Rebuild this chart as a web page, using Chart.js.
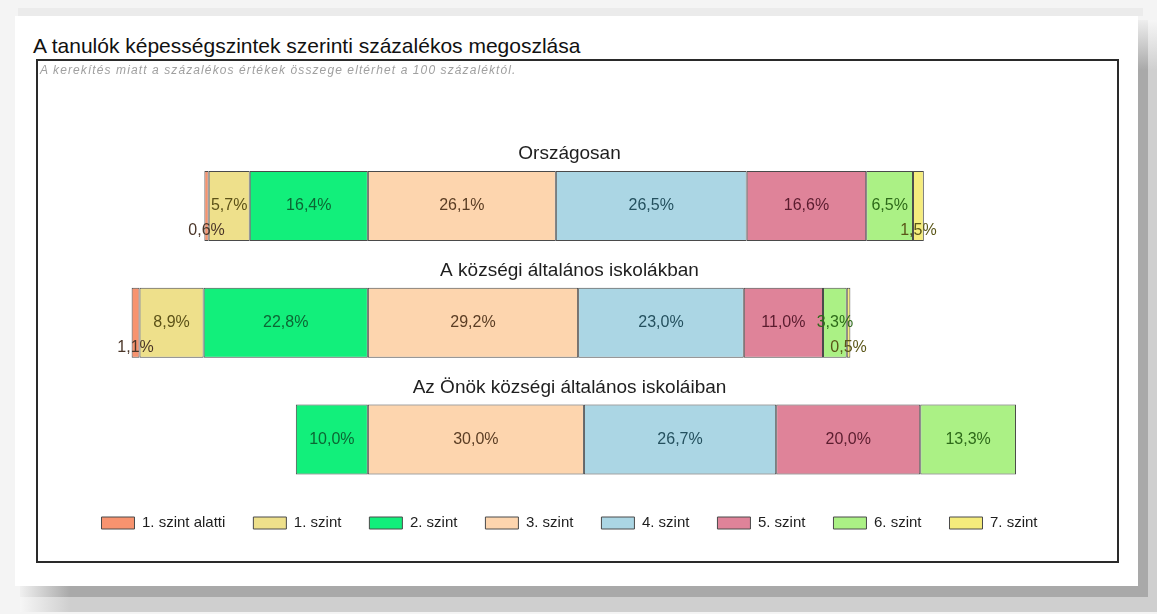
<!DOCTYPE html>
<html lang="hu">
<head>
<meta charset="utf-8">
<title>A tanulók képességszintek szerinti százalékos megoszlása</title>
<script src="https://cdn.jsdelivr.net/npm/chart.js@4.4.1/dist/chart.umd.min.js"></script>
<style>
  html, body { margin: 0; padding: 0; }
  body { width: 1157px; height: 614px; background: #f4f4f4; position: relative; overflow: hidden; font-family: "Liberation Sans", Arial, sans-serif; }
  .blk { position: absolute; }
  #paper { left: 15px; top: 16px; width: 1123px; height: 570px; background: #fff; }
  #heading { position: absolute; left: 33px; top: 35px; font-size: 21px; line-height: 21px; color: #111; white-space: nowrap; }
  #frame { position: absolute; left: 36px; top: 59px; width: 1083px; height: 504px; box-sizing: border-box; border: 2px solid #2a2a2a; background: #fff; }
  #frame canvas { display: block; }
  #note { position: absolute; left: 2px; top: 2px; font-size: 12px; line-height: 14px; font-style: italic; letter-spacing: 1.1px; color: #a0a0a0; white-space: nowrap; }
</style>
</head>
<body>
<!-- page background with the grey drop shadow -->
<div class="blk" style="left:18px;top:8px;width:1125px;height:8px;background:#ebebeb"></div>
<div class="blk" style="left:1138px;top:20px;width:10px;height:576px;background:linear-gradient(#eeeeee,#a9a9a9 50px)"></div>
<div class="blk" style="left:1148px;top:20px;width:9px;height:592px;background:linear-gradient(#f6f6f6,#cfcfcf 50px)"></div>
<div class="blk" style="left:20px;top:586px;width:1128px;height:11px;background:linear-gradient(90deg,#f0f0f0,#a9a9a9 50px)"></div>
<div class="blk" style="left:20px;top:597px;width:1137px;height:15px;background:linear-gradient(90deg,#f6f6f6,#cfcfcf 50px)"></div>
<div class="blk" id="paper"></div>
<div id="heading">A tanulók képességszintek szerinti százalékos megoszlása</div>
<div id="frame">
  <canvas id="chart" width="1079" height="500"></canvas>
  <div id="note">A kerekítés miatt a százalékos értékek összege eltérhet a 100 százaléktól.</div>
</div>

<script>
// ---------- data ----------
const categories = ["Országosan", "A községi általános iskolákban", "Az Önök községi általános iskoláiban"];
const levels = ["1. szint alatti", "1. szint", "2. szint", "3. szint", "4. szint", "5. szint", "6. szint", "7. szint"];

const belowLevel1 = [0.6, 1.1, 0];
const level1 = [5.7, 8.9, 0];
const level2 = [16.4, 22.8, 10.0];
const level3 = [26.1, 29.2, 30.0];
const level4 = [26.5, 23.0, 26.7];
const level5 = [16.6, 11.0, 20.0];
const level6 = [6.5, 3.3, 13.3];
const level7 = [1.5, 0.5, 0];

// ---------- styling ----------
const fills = ["#f7936f", "#eee08b", "#12ef7b", "#fdd5ae", "#abd6e4", "#df8399", "#abf185", "#f5ec7c"];
const labelColors = ["#4a3528", "#5c5218", "#0c6634", "#5a3d24", "#24505e", "#5a1c2e", "#2e6a1a", "#5a5618"];
const FONT = '"Liberation Sans", Arial, sans-serif';

const seriesValues = [belowLevel1, level1, level2, level3, level4, level5, level6, level7];
const LEFT_LEVELS = 3; // below-3 levels are drawn to the left of zero

const datasets = levels.map((name, i) => ({
  label: name,
  data: seriesValues[i].map(v => (v === 0 ? null : (i < LEFT_LEVELS ? -v : v))),
  backgroundColor: fills[i],
  borderColor: "#4a4a4a",
  borderWidth: 1,
  borderSkipped: false,
  // negative stack grows outward from zero: 2. szint first, then 1., then "alatti"
  order: i < LEFT_LEVELS ? LEFT_LEVELS - 1 - i : i,
  clip: false,
}));

// value labels inside the segments, tiny ones are pushed below the bar
const valueLabels = {
  id: "valueLabels",
  afterDatasetsDraw(chart) {
    const ctx = chart.ctx;
    ctx.save();
    ctx.font = "16px " + FONT;
    ctx.textAlign = "center";
    ctx.textBaseline = "middle";
    chart.data.datasets.forEach((ds, di) => {
      const meta = chart.getDatasetMeta(di);
      meta.data.forEach((el, idx) => {
        const raw = ds.data[idx];
        if (raw === null) return;
        const v = Math.abs(raw);
        const cx = (el.x + el.base) / 2;
        const cy = v < 2 ? el.y + 25 : el.y;
        ctx.fillStyle = labelColors[di];
        ctx.fillText(v.toFixed(1).replace(".", ",") + "%", cx, cy);
      });
    });
    ctx.restore();
  }
};

// group title above every bar
const barTitles = {
  id: "barTitles",
  afterDatasetsDraw(chart) {
    const ctx = chart.ctx;
    const area = chart.chartArea;
    const el = chart.getDatasetMeta(3).data[0];
    const half = el ? el.height / 2 : 35;
    ctx.save();
    ctx.font = "19px " + FONT;
    ctx.fillStyle = "#1e1e1e";
    ctx.textAlign = "center";
    ctx.textBaseline = "middle";
    categories.forEach((name, i) => {
      const y = chart.scales.y.getPixelForValue(i);
      ctx.fillText(name, (area.left + area.right) / 2, y - half - 17);
    });
    ctx.restore();
  }
};

new Chart(document.getElementById("chart"), {
  type: "bar",
  data: { labels: categories, datasets: datasets },
  options: {
    indexAxis: "y",
    responsive: false,
    animation: false,
    events: [],
    categoryPercentage: 0.6,
    barPercentage: 1,
    layout: { padding: { left: 0, right: 16, top: 145, bottom: 20.5 } },
    scales: {
      x: {
        stacked: true,
        min: -45.8,
        max: 101.8,
        ticks: { display: false },
        grid: { display: false },
        border: { display: false },
        afterFit: (scale) => { scale.height = 48; }
      },
      y: {
        stacked: true,
        display: false,
        offset: false
      }
    },
    plugins: {
      title: { display: false },
      legend: {
        position: "bottom",
        labels: {
          boxWidth: 33,
          boxHeight: 12,
          padding: 28,
          color: "#1e1e1e",
          font: { family: FONT, size: 15 },
          sort: (a, b) => a.datasetIndex - b.datasetIndex
        }
      },
      tooltip: { enabled: false }
    }
  },
  plugins: [valueLabels, barTitles]
});
</script>
</body>
</html>
